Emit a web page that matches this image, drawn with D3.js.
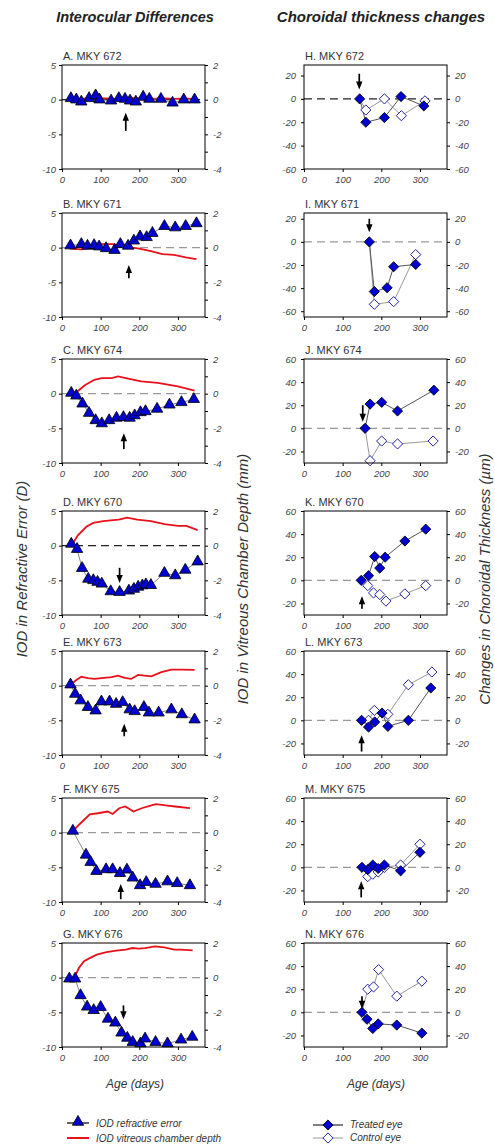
<!DOCTYPE html>
<html><head><meta charset="utf-8">
<script src="https://cdn.jsdelivr.net/npm/d3@7"></script>
<style>body{margin:0;background:#fff}svg{display:block}</style>
</head><body><div id="chart"></div>
<script>
// ---------- DATA ----------
const leftTitles = ["A. MKY 672","B. MKY 671","C. MKY 674","D. MKY 670","E. MKY 673","F. MKY 675","G. MKY 676"];
const rightTitles = ["H. MKY 672","I. MKY 671","J. MKY 674","K. MKY 670","L. MKY 673","M. MKY 675","N. MKY 676"];
const xTicks = [0,100,200,300];
const leftTicks = [5,0,-5,-10];
const vcdTicks = [2,1,0,-1,-2,-3,-4];

// IOD refractive error (D): [age days, value]
const refA = [[23,0.2],[37,0],[50,-0.3],[70,0.2],[87,0.6],[97,0],[127,-0.15],[147,0.2],[163,0.1],[176,-0.15],[191,-0.3],[210,0.4],[226,0.1],[256,0.1],[286,-0.45],[315,0],[343,0]];
const refB = [[22,0.3],[50,0.5],[66,0.25],[83,0.35],[96,0.15],[114,-0.1],[136,-0.35],[151,0.5],[171,0.25],[186,1.0],[202,1.6],[219,1.5],[234,2.1],[265,3.1],[293,2.9],[320,3.1],[348,3.5]];
const refC = [[24,0.1],[37,-0.3],[53,-1.45],[70,-2.8],[87,-3.85],[103,-4.3],[122,-3.85],[141,-3.5],[159,-3.4],[175,-3.5],[188,-3.15],[203,-2.7],[216,-2.55],[246,-2.2],[278,-1.6],[309,-1.25],[341,-0.8]];
const refD = [[24,0.25],[39,-0.5],[52,-3.25],[68,-4.8],[81,-5.0],[92,-5.25],[103,-5.5],[126,-6.6],[149,-6.7],[173,-6.5],[186,-6.25],[197,-5.95],[208,-5.75],[217,-5.6],[230,-5.7],[265,-3.95],[293,-4.3],[319,-3.5],[351,-2.3]];
const refE = [[22,0.15],[34,-1.2],[48,-2.15],[67,-3.1],[87,-3.6],[102,-2.3],[123,-2.3],[140,-2.65],[157,-2.4],[175,-3.45],[188,-3.7],[212,-3.1],[225,-3.9],[250,-3.9],[283,-3.45],[310,-4.15],[343,-4.9]];
const refF = [[28,0.25],[62,-3.2],[74,-4.25],[89,-5.55],[114,-5.3],[131,-5.3],[150,-5.85],[168,-5.35],[183,-6.5],[202,-7.6],[218,-7.15],[242,-7.4],[273,-7.05],[298,-7.3],[331,-7.6]];
const refG = [[19,-0.15],[34,-0.15],[48,-2.55],[65,-4.2],[82,-4.7],[100,-4.25],[119,-5.95],[138,-6.5],[154,-7.95],[169,-8.7],[183,-9.3],[203,-9.5],[215,-8.8],[242,-9.3],[273,-9.5],[308,-8.95],[337,-8.55]];

// IOD vitreous chamber depth (mm): [age days, value]
const vcdA = [[25,0],[50,0.05],[80,0.1],[110,0.08],[140,0.05],[170,0.1],[200,0.08],[230,0.05],[260,0.08],[290,0.05],[320,0.06],[345,0.05]];
const vcdB = [[20,-0.05],[50,-0.1],[80,0],[100,0.2],[130,0.2],[150,0.15],[180,0],[200,-0.05],[230,-0.2],[260,-0.37],[290,-0.42],[320,-0.56],[348,-0.66]];
const vcdC = [[37,0.08],[60,0.5],[84,0.8],[102,0.9],[128,0.9],[145,1.0],[171,0.87],[205,0.71],[248,0.62],[300,0.42],[343,0.17]];
const vcdD = [[24,0],[41,0.6],[63,1.09],[81,1.31],[107,1.41],[133,1.47],[147,1.5],[168,1.62],[195,1.5],[230,1.41],[265,1.24],[300,1.14],[322,1.14],[351,0.9]];
const vcdE = [[20,0],[37,0.33],[50,0.52],[67,0.43],[84,0.39],[102,0.43],[128,0.49],[145,0.58],[162,0.45],[179,0.39],[197,0.62],[214,0.58],[231,0.54],[257,0.78],[283,0.93],[309,0.93],[343,0.91]];
const vcdF = [[28,0.1],[52,0.63],[72,1.06],[93,1.12],[118,1.22],[131,1.08],[148,1.41],[164,1.51],[185,1.22],[206,1.41],[227,1.55],[243,1.65],[268,1.57],[293,1.51],[331,1.41]];
const vcdG = [[32,0],[44,0.57],[57,0.95],[73,1.14],[90,1.33],[115,1.47],[140,1.56],[165,1.62],[182,1.71],[198,1.68],[215,1.71],[240,1.81],[265,1.75],[290,1.62],[307,1.62],[338,1.58]];

// Choroidal thickness changes (µm): [age days, value]
const trtH = [[144,0],[160,-20],[208,-16],[251,2],[310,-6]];
const ctlH = [[144,0],[160,-9.5],[208,0],[252,-14.4],[313,-1.7]];
const trtI = [[169,0],[182,-43],[215,-39.7],[232,-21.5],[289,-19.5]];
const ctlI = [[169,0],[182,-54],[232,-51.7],[289,-11]];
const trtJ = [[158,0],[171,21],[201,22.5],[242,15],[336,33]];
const ctlJ = [[158,0],[171,-28],[201,-11],[242,-13.5],[334,-11]];
const trtK = [[148,0],[167,4],[183,20.6],[196,10.6],[210,20],[261,34],[315,44.3]];
const ctlK = [[148,0],[165,-4.6],[180,-10.9],[196,-12.3],[212,-18],[261,-11.7],[315,-4.6]];
const trtL = [[149,0],[167,-5.8],[183,-1.4],[202,6.3],[217,-5.2],[270,0],[328,28]];
const ctlL = [[149,0],[167,0],[182,8.6],[217,5.2],[270,30.8],[331,41.8]];
const trtM = [[150,0],[165,-2],[178,2],[192,-1],[208,2],[250,-3],[300,13]];
const ctlM = [[150,0],[165,-8],[178,-6],[192,-4],[208,0],[250,2],[300,20]];
const trtN = [[150,0],[163,-6],[178,-14],[192,-10],[240,-11],[305,-18]];
const ctlN = [[150,0],[165,20],[180,22],[193,37],[240,14],[305,27]];

// annotation arrows: [age, head value, tail value]
const arrowsLeft = [[165,-1.9,-4.5],[173,-2.5,-4.4],[160,-5.7,-8.0],[149,-5.4,-3.2],[161,-5.5,-7.3],[152,-7.4,-9.6],[159,-6.0,-4.0]];
const arrowsRight = [[143,8,21.5],[169,8.3,20],[152,5.8,20],[150,-13.7,-24.6],[149,-13,-27],[148,-12,-26],[150,3,14]];

const rightDomains = [[-60,29],[-65,25],[-30,60],[-30,60],[-30,60],[-30,60],[-30,60]];
const rightTickSets = [[20,0,-20,-40,-60],[20,0,-20,-40,-60],[60,40,20,0,-20],[60,40,20,0,-20],[60,40,20,0,-20],[60,40,20,0,-20],[60,40,20,0,-20]];
const leftZeroDark = [true,false,false,true,false,false,false];
const rightZeroDark = [true,false,false,false,false,false,false];

const refSeries = [refA,refB,refC,refD,refE,refF,refG];
const vcdSeries = [vcdA,vcdB,vcdC,vcdD,vcdE,vcdF,vcdG];
const trtSeries = [trtH,trtI,trtJ,trtK,trtL,trtM,trtN];
const ctlSeries = [ctlH,ctlI,ctlJ,ctlK,ctlL,ctlM,ctlN];

// ---------- LAYOUT ----------
const W = 495, H = 1146;
const tops = [65,213,359,511,651,798,943];
const ph = 104;
const L0 = 62, L1 = 205, R0 = 304, R1 = 447;
const FONT = "Arial, 'Liberation Sans', sans-serif";
const BLUE = "#0000d0";

const svg = d3.select("#chart").append("svg").attr("width",W).attr("height",H)
  .style("font-family",FONT);

const fmt = d => String(d);
const tri = d3.symbol().type(d3.symbolTriangle).size(56);
const dia = d3.symbol().type(d3.symbolSquare).size(52);

function styleAxis(g){
  g.select(".domain").remove();
  g.selectAll(".tick line").attr("stroke","#000");
  g.selectAll(".tick text").attr("fill","#444").style("font-size","9.5px").style("font-style","italic");
}

function drawArrow(g, x, y, a){
  const xp = x(a[0]), yh = y(a[1]), yt = y(a[2]);
  const dir = yt > yh ? 1 : -1;
  g.append("line").attr("x1",xp).attr("x2",xp).attr("y1",yt).attr("y2",yh + dir*4)
    .attr("stroke","#000").attr("stroke-width",1.7);
  g.append("path").attr("d",`M${xp},${yh} L${xp-3.2},${yh+dir*8} L${xp+3.2},${yh+dir*8} Z`).attr("fill","#000");
}

function frame(g, x0, x1, top){
  g.append("rect").attr("x",x0).attr("y",top).attr("width",x1-x0).attr("height",ph)
    .attr("fill","none").attr("stroke","#000").attr("stroke-width",1);
}

// ---------- LEFT PANELS ----------
leftTitles.forEach((t,i)=>{
  const top = tops[i];
  const g = svg.append("g");
  const x = d3.scaleLinear([0,370],[L0,L1]);
  const yL = d3.scaleLinear([-10,5],[top+ph,top]);
  const yR = d3.scaleLinear([-4,2],[top+ph,top]);

  g.append("g").attr("transform",`translate(${L0},0)`)
    .call(d3.axisLeft(yL).tickValues(leftTicks).tickSize(3).tickPadding(3).tickFormat(fmt)).call(styleAxis);
  g.append("g").attr("transform",`translate(${L1},0)`)
    .call(d3.axisRight(yR).tickValues(vcdTicks).tickSize(3).tickPadding(5).tickFormat(d=> d%2===0?fmt(d):"")).call(styleAxis);
  g.append("g").attr("transform",`translate(0,${top+ph})`)
    .call(d3.axisBottom(x).tickValues(xTicks).tickSize(3).tickPadding(4).tickFormat(fmt)).call(styleAxis);

  g.append("line").attr("x1",L0).attr("x2",L1).attr("y1",yL(0)).attr("y2",yL(0))
    .attr("stroke",leftZeroDark[i]?"#222":"#999").attr("stroke-width",1.3).attr("stroke-dasharray","8,5");

  g.append("path").datum(vcdSeries[i])
    .attr("d",d3.line().x(d=>x(d[0])).y(d=>yR(d[1])))
    .attr("fill","none").attr("stroke","#e8101a").attr("stroke-width",1.8);

  g.append("path").datum(refSeries[i])
    .attr("d",d3.line().x(d=>x(d[0])).y(d=>yL(d[1])))
    .attr("fill","none").attr("stroke","#888").attr("stroke-width",1);

  g.selectAll(".tri").data(refSeries[i]).join("path")
    .attr("d",tri).attr("transform",d=>`translate(${x(d[0])},${yL(d[1])})`)
    .attr("fill",BLUE).attr("stroke","#000").attr("stroke-width",0.8);

  drawArrow(g, x, yL, arrowsLeft[i]);
  frame(g, L0, L1, top);

  g.append("text").attr("x",L0+1).attr("y",top-5).text(t)
    .attr("fill","#333").style("font-size","11px");
});

// ---------- RIGHT PANELS ----------
rightTitles.forEach((t,i)=>{
  const top = tops[i];
  const g = svg.append("g");
  const x = d3.scaleLinear([0,370],[R0,R1]);
  const y = d3.scaleLinear(rightDomains[i],[top+ph,top]);

  g.append("g").attr("transform",`translate(${R0},0)`)
    .call(d3.axisLeft(y).tickValues(rightTickSets[i]).tickSize(3).tickPadding(5).tickFormat(fmt)).call(styleAxis);
  g.append("g").attr("transform",`translate(${R1},0)`)
    .call(d3.axisRight(y).tickValues(rightTickSets[i]).tickSize(3).tickPadding(5).tickFormat(fmt)).call(styleAxis);
  g.append("g").attr("transform",`translate(0,${top+ph})`)
    .call(d3.axisBottom(x).tickValues(xTicks).tickSize(3).tickPadding(4).tickFormat(fmt)).call(styleAxis);

  g.append("line").attr("x1",R0).attr("x2",R1).attr("y1",y(0)).attr("y2",y(0))
    .attr("stroke",rightZeroDark[i]?"#222":"#999").attr("stroke-width",1.3).attr("stroke-dasharray","8,5");

  const line = d3.line().x(d=>x(d[0])).y(d=>y(d[1]));
  g.append("path").datum(ctlSeries[i]).attr("d",line)
    .attr("fill","none").attr("stroke","#999").attr("stroke-width",1);
  g.append("path").datum(trtSeries[i]).attr("d",line)
    .attr("fill","none").attr("stroke","#555").attr("stroke-width",1);

  g.selectAll(".ctl").data(ctlSeries[i].slice(1)).join("path")
    .attr("d",dia).attr("transform",d=>`translate(${x(d[0])},${y(d[1])}) rotate(45)`)
    .attr("fill","#fff").attr("stroke","#1a1aa0").attr("stroke-width",0.9);
  g.selectAll(".trt").data(trtSeries[i]).join("path")
    .attr("d",dia).attr("transform",d=>`translate(${x(d[0])},${y(d[1])}) rotate(45)`)
    .attr("fill",BLUE).attr("stroke","#000").attr("stroke-width",0.8);

  drawArrow(g, x, y, arrowsRight[i]);
  frame(g, R0, R1, top);

  g.append("text").attr("x",R0+1).attr("y",top-5).text(t)
    .attr("fill","#333").style("font-size","11px");
});

// ---------- TITLES & AXIS LABELS ----------
svg.append("text").attr("x",135).attr("y",22).attr("text-anchor","middle")
  .text("Interocular Differences").style("font-size","14.5px").style("font-weight","bold").style("font-style","italic").attr("fill","#222");
svg.append("text").attr("x",381).attr("y",22).attr("text-anchor","middle")
  .text("Choroidal thickness changes").style("font-size","15px").style("font-weight","bold").style("font-style","italic").attr("fill","#222");

function vLabel(txt, x, y){
  svg.append("text").attr("transform",`translate(${x},${y}) rotate(-90)`).attr("text-anchor","middle")
    .text(txt).style("font-size","15px").style("font-style","italic").attr("fill","#333");
}
vLabel("IOD in Refractive Error (D)", 27, 569);
vLabel("IOD in Vitreous Chamber Depth (mm)", 248, 579);
vLabel("Changes in Choroidal Thickness (\u00b5m)", 490, 579);

svg.append("text").attr("x",135).attr("y",1088).attr("text-anchor","middle")
  .text("Age (days)").style("font-size","12px").style("font-style","italic").attr("fill","#333");
svg.append("text").attr("x",376).attr("y",1088).attr("text-anchor","middle")
  .text("Age (days)").style("font-size","12px").style("font-style","italic").attr("fill","#333");

// ---------- LEGENDS ----------
const lg = svg.append("g");
const legFont = "10px";
lg.append("line").attr("x1",67).attr("x2",89).attr("y1",1123).attr("y2",1123).attr("stroke","#000").attr("stroke-width",1.2);
lg.append("path").attr("d",tri).attr("transform","translate(78,1122)").attr("fill",BLUE).attr("stroke","#000").attr("stroke-width",0.8);
lg.append("text").attr("x",96).attr("y",1127).text("IOD refractive error").style("font-size",legFont).style("font-style","italic").attr("fill","#333");
lg.append("line").attr("x1",67).attr("x2",89).attr("y1",1138).attr("y2",1138).attr("stroke","#e8101a").attr("stroke-width",2);
lg.append("text").attr("x",96).attr("y",1142).text("IOD vitreous chamber depth").style("font-size",legFont).style("font-style","italic").attr("fill","#333");

lg.append("line").attr("x1",313).attr("x2",343).attr("y1",1125).attr("y2",1125).attr("stroke","#000").attr("stroke-width",1);
lg.append("path").attr("d",dia).attr("transform","translate(328,1125) rotate(45)").attr("fill",BLUE).attr("stroke","#000").attr("stroke-width",0.8);
lg.append("text").attr("x",350).attr("y",1128).text("Treated eye").style("font-size",legFont).style("font-style","italic").attr("fill","#333");
lg.append("line").attr("x1",313).attr("x2",343).attr("y1",1138).attr("y2",1138).attr("stroke","#999").attr("stroke-width",1);
lg.append("path").attr("d",dia).attr("transform","translate(328,1138) rotate(45)").attr("fill","#fff").attr("stroke","#1a1aa0").attr("stroke-width",0.9);
lg.append("text").attr("x",350).attr("y",1141).text("Control eye").style("font-size",legFont).style("font-style","italic").attr("fill","#333");
</script>
</body></html>
